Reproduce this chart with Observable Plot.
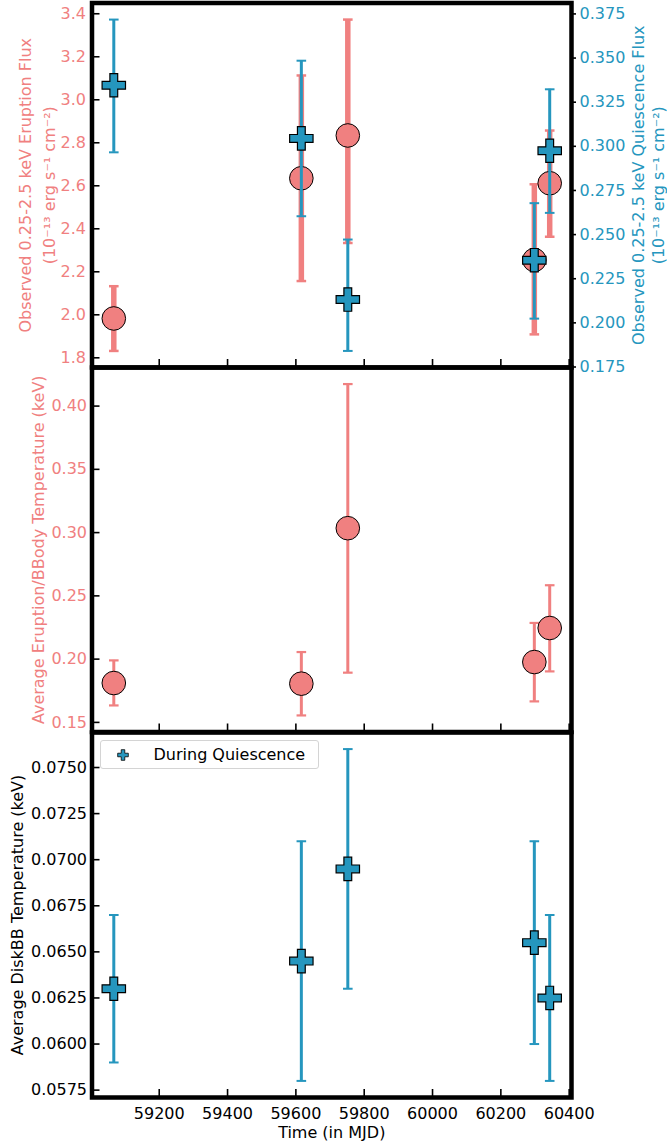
<!DOCTYPE html>
<html><head><meta charset="utf-8">
<script src="https://cdn.jsdelivr.net/npm/d3@7"></script>
<script src="https://cdn.jsdelivr.net/npm/@observablehq/plot@0.6"></script>
<style>
body{margin:0;background:#fff;}
#wrap{position:relative;width:667px;height:1145px;font-family:"DejaVu Sans",sans-serif;overflow:hidden;}
#wrap svg{position:absolute;left:0;overflow:visible;}
#legend{position:absolute;left:99.5px;top:740px;width:219px;height:29px;border:1px solid #d4d4d4;border-radius:3px;background:rgba(255,255,255,0.85);box-sizing:border-box;font-size:16px;color:#000;}
#legend span{position:absolute;left:53px;top:4px;white-space:nowrap;}
#legend svg{position:absolute;left:15px;top:7px;}
</style></head><body><div id="wrap"></div>
<script>
// ---- data ----
const mjd = [59067, 59616, 59752, 60298, 60343];
const eruptFlux   = [1.983, 2.635, 2.834, 2.255, 2.612];
const eruptFluxLo = [1.832, 2.157, 2.334, 1.909, 2.363];
const eruptFluxHi = [2.133, 3.113, 3.373, 2.607, 2.857];
const quiesFlux   = [0.3346, 0.3045, 0.2132, 0.2355, 0.2975];
const quiesFluxLo = [0.2966, 0.2604, 0.1841, 0.2024, 0.2623];
const quiesFluxHi = [0.3718, 0.3485, 0.2472, 0.2678, 0.3323];
const bbTemp   = [0.1811, 0.1806, 0.3035, 0.1977, 0.2246];
const bbTempLo = [0.1634, 0.1555, 0.1893, 0.1666, 0.1903];
const bbTempHi = [0.1990, 0.2056, 0.4174, 0.2286, 0.2584];
const diskTemp   = [0.0630, 0.0645, 0.0695, 0.0655, 0.0625];
const diskTempLo = [0.0590, 0.0580, 0.0630, 0.0600, 0.0580];
const diskTempHi = [0.0670, 0.0710, 0.0760, 0.0710, 0.0670];

const xTicks = [59200, 59400, 59600, 59800, 60000, 60200, 60400];
const fluxTicks = [1.8, 2.0, 2.2, 2.4, 2.6, 2.8, 3.0, 3.2, 3.4];
const quiesTicks = [0.175, 0.200, 0.225, 0.250, 0.275, 0.300, 0.325, 0.350, 0.375];
const bbTicks = [0.15, 0.20, 0.25, 0.30, 0.35, 0.40];
const diskTicks = [0.0575, 0.0600, 0.0625, 0.0650, 0.0675, 0.0700, 0.0725, 0.0750];

const xLabel = "Time (in MJD)";
const fluxLabel1 = "Observed 0.25-2.5 keV Eruption Flux";
const fluxLabel2 = "(10\u207B\u00B9\u00B3 erg s\u207B\u00B9 cm\u207B\u00B2)";
const quiesLabel1 = "Observed 0.25-2.5 keV Quiescence Flux";
const quiesLabel2 = "(10\u207B\u00B9\u00B3 erg s\u207B\u00B9 cm\u207B\u00B2)";
const bbLabel = "Average Eruption/BBody Temperature (keV)";
const diskLabel = "Average DiskBB Temperature (keV)";
const legendLabel = "During Quiescence";

// ---- styling ----
const RED = "#F08080", BLUE = "#2596be";
const W = 667, ML = 91.5, MR = 96;
const plotW = W - ML - MR;
const font = {fontFamily: "'DejaVu Sans', sans-serif", fontSize: "16px", background: "transparent", overflow: "visible"};

const pad = (lo, hi) => { const a = d3.min(lo), b = d3.max(hi), m = (b - a) * 0.05; return [a - m, b + m]; };
const xDomain = (() => { const a = d3.min(mjd), b = d3.max(mjd), m = (b - a) * 0.05; return [a - m, b + m]; })();
const fluxDom = pad(eruptFluxLo, eruptFluxHi);
const quiesDom = pad(quiesFluxLo, quiesFluxHi);
const bbDom = pad(bbTempLo, bbTempHi);
const diskDom = pad(diskTempLo, diskTempHi);
// twin axis: map quiescence values onto the eruption-flux scale
const q2f = d3.scaleLinear().domain(quiesDom).range(fluxDom);

const capSym = {draw(ctx, size){ const w = Math.sqrt(size/Math.PI); ctx.moveTo(-w,0); ctx.lineTo(w,0); }};
const plusSym = {draw(ctx, size){ const h = Math.sqrt(size/Math.PI), a = h/3;
  ctx.moveTo(-a,-h); ctx.lineTo(a,-h); ctx.lineTo(a,-a); ctx.lineTo(h,-a); ctx.lineTo(h,a); ctx.lineTo(a,a);
  ctx.lineTo(a,h); ctx.lineTo(-a,h); ctx.lineTo(-a,a); ctx.lineTo(-h,a); ctx.lineTo(-h,-a); ctx.lineTo(-a,-a); ctx.closePath(); }};

const rows = (v, lo, hi, f = d => d) => mjd.map((x, i) => ({x, y: f(v[i]), lo: f(lo[i]), hi: f(hi[i])}));

function errMarks(data, color, lw, capW) {
  return [
    Plot.ruleX(data, {x: "x", y1: "lo", y2: "hi", stroke: color, strokeWidth: lw}),
    Plot.dot(data, {x: "x", y: "lo", symbol: capSym, r: 4.8, stroke: color, strokeWidth: capW, fill: "none"}),
    Plot.dot(data, {x: "x", y: "hi", symbol: capSym, r: 4.8, stroke: color, strokeWidth: capW, fill: "none"})
  ];
}
function tickMarks(yTicks, plotH) {
  return [
    Plot.tickY(yTicks, {y: d => d, insetRight: plotW - 8, stroke: "black", strokeWidth: 1.6}),
    Plot.tickX(xTicks, {x: d => d, insetTop: plotH - 8, stroke: "black", strokeWidth: 1.6})
  ];
}
const vlabel = (txt, anchor, dx, color) =>
  Plot.text([txt], {text: d => d, frameAnchor: anchor, textAnchor: "middle", lineAnchor: "middle", rotate: -90, dx, fill: color, fontSize: 16});
const frame = Plot.frame({stroke: "black", strokeWidth: 4.5});

const wrap = document.getElementById("wrap");
function place(svg, top) { svg.style.top = top + "px"; wrap.appendChild(svg); }

// ---- panel 1 ----
{
  const top = 2.5, H = 367;
  const red = rows(eruptFlux, eruptFluxLo, eruptFluxHi);
  const blue = rows(quiesFlux, quiesFluxLo, quiesFluxHi, q2f);
  const svg = Plot.plot({
    width: W, height: H, marginLeft: ML, marginRight: MR, marginTop: top, marginBottom: 0,
    style: font,
    x: {domain: xDomain, axis: null},
    y: {domain: fluxDom, axis: null},
    marks: [
      ...errMarks(red, RED, 5.5, 2.5),
      Plot.dot(red, {x: "x", y: "y", r: 11.8, fill: RED, stroke: "black", strokeWidth: 1}),
      ...errMarks(blue, BLUE, 3, 2),
      Plot.dot(blue, {x: "x", y: "y", r: 11.7, symbol: plusSym, fill: BLUE, stroke: "black", strokeWidth: 1.2}),
      ...tickMarks(fluxTicks, H - top),
      Plot.axisY(fluxTicks, {anchor: "left", tickSize: 0, tickPadding: 6, tickFormat: d => d.toFixed(1), fill: RED, label: null}),
      Plot.axisY(quiesTicks.map(q2f), {anchor: "right", tickSize: 4, tickPadding: 4, stroke: "black", strokeWidth: 1.6, tickFormat: d => q2f.invert(d).toFixed(3), fill: BLUE, label: null}),
      vlabel(fluxLabel1, "left", -(ML - 25), RED),
      vlabel(fluxLabel2, "left", -(ML - 49), RED),
      vlabel(quiesLabel1, "right", 638 - (W - MR), BLUE),
      vlabel(quiesLabel2, "right", 658 - (W - MR), BLUE),
      frame
    ]
  });
  place(svg, 0);
}

// ---- panel 2 ----
{
  const top0 = 367, H = 364.5;
  const red = rows(bbTemp, bbTempLo, bbTempHi);
  const svg = Plot.plot({
    width: W, height: H, marginLeft: ML, marginRight: MR, marginTop: 0, marginBottom: 0,
    style: font,
    x: {domain: xDomain, axis: null},
    y: {domain: bbDom, axis: null},
    marks: [
      ...errMarks(red, RED, 3, 2.2),
      Plot.dot(red, {x: "x", y: "y", r: 11.8, fill: RED, stroke: "black", strokeWidth: 1}),
      ...tickMarks(bbTicks, H),
      Plot.axisY(bbTicks, {anchor: "left", tickSize: 0, tickPadding: 5, tickFormat: d => d.toFixed(2), fill: RED, label: null}),
      vlabel(bbLabel, "left", -(ML - 38), RED),
      frame
    ]
  });
  place(svg, top0);
}

// ---- panel 3 ----
{
  const top0 = 731.5, plotH = 365, H = 1145 - top0;
  const blue = rows(diskTemp, diskTempLo, diskTempHi);
  const svg = Plot.plot({
    width: W, height: H, marginLeft: ML, marginRight: MR, marginTop: 0, marginBottom: H - plotH,
    style: font,
    x: {domain: xDomain, axis: null},
    y: {domain: diskDom, axis: null},
    marks: [
      ...errMarks(blue, BLUE, 3, 2),
      Plot.dot(blue, {x: "x", y: "y", r: 11.7, symbol: plusSym, fill: BLUE, stroke: "black", strokeWidth: 1.2}),
      ...tickMarks(diskTicks, plotH),
      Plot.axisY(diskTicks, {anchor: "left", tickSize: 0, tickPadding: 5, tickFormat: d => d.toFixed(4), fill: "black", label: null}),
      Plot.axisX(xTicks, {anchor: "bottom", tickSize: 0, tickPadding: 10, tickFormat: d => String(d), fill: "black", label: null}),
      Plot.text([xLabel], {text: d => d, frameAnchor: "bottom", lineAnchor: "top", dy: 29, fill: "black", fontSize: 16}),
      vlabel(diskLabel, "left", -(ML - 17), "black"),
      frame
    ]
  });
  place(svg, top0);
}

// ---- legend ----
{
  const lg = document.createElement("div");
  lg.id = "legend";
  const p = d3.path(); plusSym.draw(p, Math.PI * 5.3 * 5.3);
  lg.innerHTML = `<svg width="14" height="14" viewBox="-7 -7 14 14"><path d="${p.toString()}" fill="${BLUE}" stroke="black" stroke-width="0.8"/></svg><span>${legendLabel}</span>`;
  wrap.appendChild(lg);
}
</script></body></html>
